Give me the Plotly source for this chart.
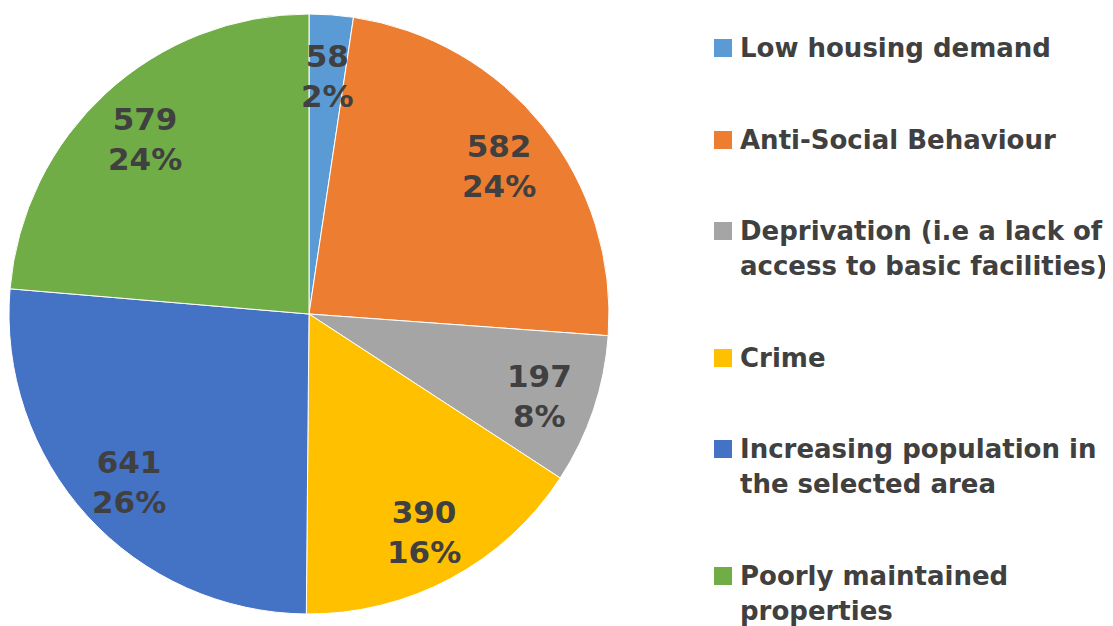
import math
import plotly.graph_objects as go

categories = [
    "Low housing demand",
    "Anti-Social Behaviour",
    "Deprivation (i.e a lack of<br>access to basic facilities)",
    "Crime",
    "Increasing population in<br>the selected area",
    "Poorly maintained<br>properties",
]
values = [58, 582, 197, 390, 641, 579]
colors = ["#5B9BD5", "#ED7D31", "#A5A5A5", "#FFC000", "#4472C4", "#70AD47"]

W, H = 1113, 626
TEXT = "#404040"
FONT = "DejaVu Sans"
OFF = 8  # page body margin compensation

# pie geometry in pixels (target positions in the screenshot)
cx, cy, R = 309 - OFF, 314 - OFF, 300

fig = go.Figure()
fig.add_trace(go.Pie(
    labels=[c.replace("<br>", " ") for c in categories],
    values=values,
    marker=dict(colors=colors, line=dict(color="white", width=1)),
    sort=False,
    direction="clockwise",
    rotation=0,
    textinfo="none",
    hoverinfo="label+value+percent",
    showlegend=False,
    domain=dict(x=[(cx - R) / W, (cx + R) / W], y=[(H - cy - R) / H, (H - cy + R) / H]),
))

annotations = []
total = sum(values)
cum = 0
for v in values:
    mid = (cum + v / 2) / total * 2 * math.pi
    cum += v
    rr = 0.81 * R
    px = cx + rr * math.sin(mid)
    py = cy - rr * math.cos(mid)
    pct = round(v / total * 100)
    annotations.append(dict(
        x=px / W, y=1 - py / H, xref="paper", yref="paper",
        text=f"{v}<br>{pct}%", showarrow=False, yshift=-4,
        font=dict(family=FONT, size=31, color=TEXT, weight="bold"),
        xanchor="center", yanchor="middle", align="center",
    ))

# legend (manual, to mimic the wide spacing)
sq_centers = [48, 140, 231, 358, 449, 576]
shapes = []
for i, (cat, col) in enumerate(zip(categories, colors)):
    yc = sq_centers[i] - OFF
    shapes.append(dict(type="rect", xref="paper", yref="paper",
                       x0=(714 - OFF) / W, x1=(732 - OFF) / W,
                       y0=1 - (yc + 9) / H, y1=1 - (yc - 9) / H,
                       fillcolor=col, line=dict(width=0)))
    for j, line in enumerate(cat.split("<br>")):
        annotations.append(dict(
            x=(738 - OFF) / W, y=1 - (yc + j * 35) / H, xref="paper", yref="paper",
            text=line, showarrow=False,
            font=dict(family=FONT, size=26, color=TEXT, weight="bold"),
            xanchor="left", yanchor="middle", align="left",
        ))

fig.update_layout(
    width=W, height=H,
    margin=dict(l=0, r=0, t=0, b=0),
    paper_bgcolor="white", plot_bgcolor="white",
    annotations=annotations, shapes=shapes,
    showlegend=False,
)

fig.write_html("out.html")
